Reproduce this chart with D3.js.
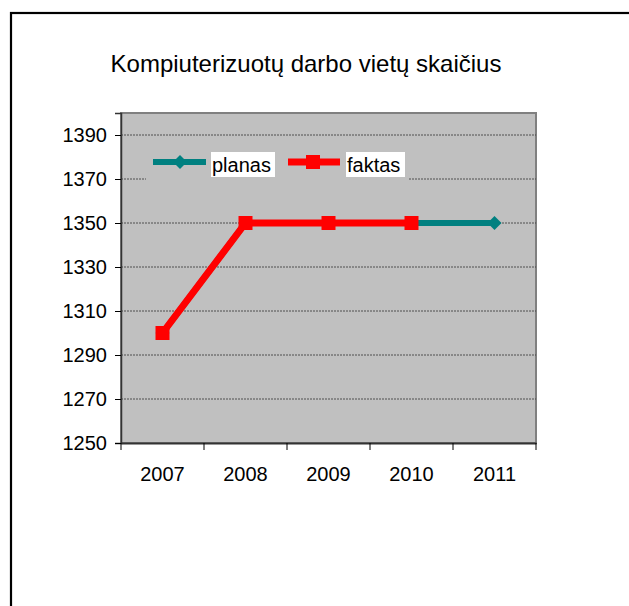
<!DOCTYPE html>
<html><head><meta charset="utf-8">
<script src="https://cdn.jsdelivr.net/npm/d3@7"></script>
<style>body{margin:0;background:#fff}svg{display:block}</style>
</head><body>
<script>
const title = "Kompiuterizuotų darbo vietų skaičius";
const categories = ["2007","2008","2009","2010","2011"];
const planas = [1300,1350,1350,1350,1350];
const faktas = [1300,1350,1350,1350,null];
const yTicks = [1250,1270,1290,1310,1330,1350,1370,1390];
const seriesNames = ["planas","faktas"];

const W=629,H=606;
const FF="Liberation Sans, Arial, sans-serif";
const svg=d3.select("body").append("svg").attr("width",W).attr("height",H);
svg.append("rect").attr("width",W).attr("height",H).attr("fill","#fff");
svg.append("rect").attr("x",11).attr("y",13).attr("width",W).attr("height",H)
  .attr("fill","none").attr("stroke","#000").attr("stroke-width",2.2);

const L=121,R=536,T=113,B=443;
const x=d3.scaleBand().domain(categories).range([L,R]);
const y=d3.scaleLinear().domain([1250,1400]).range([B,T]);

svg.append("text").attr("x",306).attr("y",72).attr("text-anchor","middle")
  .attr("font-family",FF).attr("font-size",24).text(title);

svg.append("rect").attr("x",L).attr("y",T).attr("width",R-L).attr("height",B-T)
  .attr("fill","#c0c0c0").attr("stroke","#808080").attr("stroke-width",2);

// gridlines
svg.append("g").selectAll("line").data(yTicks.filter(d=>d>1250)).join("line")
  .attr("x1",L).attr("x2",R).attr("y1",d=>y(d)).attr("y2",d=>y(d))
  .attr("stroke","#333").attr("stroke-width",0.8).attr("stroke-dasharray","2,1");

// y axis
const ya=svg.append("g").attr("transform",`translate(${L},0)`)
  .call(d3.axisLeft(y).tickValues(yTicks).tickSize(6).tickPadding(8).tickFormat(d3.format("d")));
ya.select(".domain").attr("stroke","#333").attr("stroke-width",1.5);
ya.selectAll(".tick line").attr("stroke","#000");
ya.selectAll("text").attr("font-family",FF).attr("font-size",20).attr("fill","#000");

// x axis
const xa=svg.append("g").attr("transform",`translate(0,${B})`)
  .call(d3.axisBottom(x).tickSize(0).tickPadding(24));
xa.select(".domain").attr("stroke","#333").attr("stroke-width",2);
xa.selectAll("text").attr("font-family",FF).attr("font-size",20).attr("fill","#000");
const bounds=categories.map(c=>x(c)).concat([R]);
xa.selectAll(".bt").data(bounds).join("line").attr("class","bt")
  .attr("x1",d=>d).attr("x2",d=>d).attr("y1",0).attr("y2",7).attr("stroke","#000");

// legend box (covers gridlines)
const lg=svg.append("g");
lg.append("rect").attr("x",146).attr("y",140).attr("width",262).attr("height",44).attr("fill","#c0c0c0");

const line=d3.line().defined(d=>d.v!=null).x(d=>x(d.c)+x.bandwidth()/2).y(d=>y(d.v));
const pData=categories.map((c,i)=>({c,v:planas[i]}));
const fData=categories.map((c,i)=>({c,v:faktas[i]}));

svg.append("path").datum(pData).attr("d",line).attr("fill","none").attr("stroke","#008080").attr("stroke-width",6);
svg.append("g").selectAll("path").data(pData).join("path")
  .attr("transform",d=>`translate(${x(d.c)+x.bandwidth()/2},${y(d.v)})`)
  .attr("d","M0,-7L7,0L0,7L-7,0Z").attr("fill","#008080");

svg.append("path").datum(fData).attr("d",line).attr("fill","none").attr("stroke","#ff0000").attr("stroke-width",7).attr("stroke-linejoin","round");
svg.append("g").selectAll("rect").data(fData.filter(d=>d.v!=null)).join("rect")
  .attr("x",d=>x(d.c)+x.bandwidth()/2-7).attr("y",d=>y(d.v)-7).attr("width",14).attr("height",14).attr("fill","#ff0000");

// legend items
const ly=162;
lg.append("line").attr("x1",153).attr("x2",206).attr("y1",ly).attr("y2",ly).attr("stroke","#008080").attr("stroke-width",6);
lg.append("path").attr("transform",`translate(180,${ly})`).attr("d","M0,-7L7,0L0,7L-7,0Z").attr("fill","#008080");
lg.append("rect").attr("x",211).attr("y",152).attr("width",64).attr("height",25).attr("fill","#fff");
lg.append("text").attr("x",212).attr("y",172).attr("font-family",FF).attr("font-size",20).text(seriesNames[0]);
lg.append("line").attr("x1",288).attr("x2",340).attr("y1",ly).attr("y2",ly).attr("stroke","#ff0000").attr("stroke-width",7);
lg.append("rect").attr("x",306).attr("y",ly-7).attr("width",14).attr("height",14).attr("fill","#ff0000");
lg.append("rect").attr("x",346).attr("y",152).attr("width",59).attr("height",25).attr("fill","#fff");
lg.append("text").attr("x",347).attr("y",172).attr("font-family",FF).attr("font-size",20).text(seriesNames[1]);
</script>
</body></html>
